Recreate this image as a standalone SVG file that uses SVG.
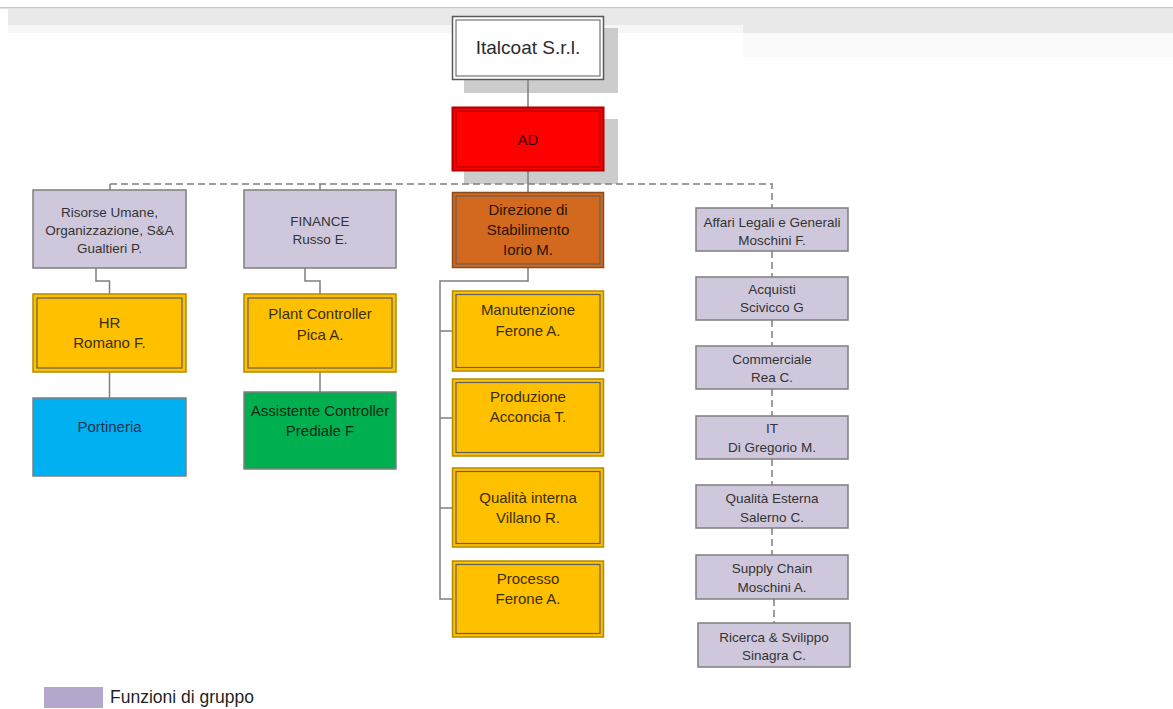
<svg xmlns="http://www.w3.org/2000/svg" width="1173" height="709" viewBox="0 0 1173 709">
<style>
text{font-family:"Liberation Sans",Arial,sans-serif;text-anchor:middle;fill:#2b2b2b}
.s{font-size:13.5px;fill:#333}
.m{font-size:15px;fill:#3a2f00}
.lav{fill:#cfc8dc;stroke:#7f7f7f;stroke-width:1.5}
.yo{fill:#ffc000;stroke:#b08a00;stroke-width:1.5}
.yi{fill:none;stroke:#5f5f5f;stroke-width:1.2}
.ln{fill:none;stroke:#7f7f7f;stroke-width:1.5}
.dl{fill:none;stroke:#7f7f7f;stroke-width:1.5;stroke-dasharray:7,4}
.sh{fill:#cccccc}
</style>
<rect width="1173" height="709" fill="#ffffff"/>
<g id="topband">
<rect x="0" y="7" width="1173" height="1.5" fill="#c8c8c8"/>
<rect x="8" y="9" width="1165" height="16" fill="#e9e9e9"/>
<rect x="8" y="25" width="735" height="8" fill="#f7f7f7"/>
<rect x="743" y="25" width="430" height="8" fill="#e9e9e9"/>
<rect x="743" y="33" width="430" height="24" fill="#fafafa"/>
</g>
<g id="shadows">
<rect class="sh" x="464" y="28" width="154" height="65"/>
<rect class="sh" x="464" y="119" width="154" height="65"/>
</g>
<g id="connectors">
<path class="ln" d="M528,80V107M528,170V192"/>
<path class="dl" d="M110,184H772V208"/>
<path class="ln" d="M110,184V190M320,184V190"/>
<path class="ln" d="M96,268V281H109.5V294M109.5,372V398"/>
<path class="ln" d="M305,268V281H320V294M320,372V392"/>
<path class="ln" d="M528,268V281H440V599H452M440,331H452M440,418H452M440,508H452"/>
<path class="dl" d="M772,251V277M772,320V346M772,389V416M772,459V485M772,528V555M774,599V623"/>
</g>
<g id="italcoat">
<rect x="452.5" y="16.5" width="151" height="63" fill="#fff" stroke="#595959" stroke-width="1.5"/>
<rect x="456" y="20" width="144" height="56" fill="none" stroke="#595959" stroke-width="1"/>
<text x="528" y="54" style="font-size:19px">Italcoat S.r.l.</text>
</g>
<g id="ad">
<rect x="452.5" y="107.5" width="151" height="63" fill="#ff0000" stroke="#b00000" stroke-width="2"/>
<rect x="456" y="111" width="144" height="56" fill="none" stroke="#a00000" stroke-width="1"/>
<text x="528" y="144.5" style="font-size:15px;fill:#300">AD</text>
</g>
<g id="risorse">
<rect class="lav" x="33" y="190" width="153" height="78"/>
<text class="s" x="109.5" y="217">Risorse Umane,</text>
<text class="s" x="109.5" y="235">Organizzazione, S&amp;A</text>
<text class="s" x="109.5" y="253">Gualtieri P.</text>
</g>
<g id="hr">
<rect class="yo" x="33" y="294" width="153" height="78"/>
<rect class="yi" x="37" y="298" width="145" height="70"/>
<text class="m" x="109.5" y="328">HR</text>
<text class="m" x="109.5" y="348">Romano F.</text>
</g>
<g id="portineria">
<rect x="33" y="398" width="153" height="78" fill="#00b0f0" stroke="#7f7f7f" stroke-width="1.5"/>
<text class="m" x="109.5" y="432" style="fill:#1c3350">Portineria</text>
</g>
<g id="finance">
<rect class="lav" x="244" y="190" width="152" height="78"/>
<text class="s" x="320" y="226">FINANCE</text>
<text class="s" x="320" y="244">Russo E.</text>
</g>
<g id="plantcontroller">
<rect class="yo" x="244" y="294" width="152" height="78"/>
<rect class="yi" x="248" y="298" width="144" height="70"/>
<text class="m" x="320" y="319">Plant Controller</text>
<text class="m" x="320" y="340">Pica A.</text>
</g>
<g id="assistente">
<rect x="244" y="392" width="152" height="77" fill="#00b050" stroke="#7f7f7f" stroke-width="1.5"/>
<text class="m" x="320" y="416" style="fill:#0f2a14">Assistente Controller</text>
<text class="m" x="320" y="436" style="fill:#0f2a14">Prediale F</text>
</g>
<g id="direzione">
<rect x="452.5" y="192.5" width="151" height="75" fill="#d2691e" stroke="#8a4a1a" stroke-width="1.5"/>
<rect x="456" y="196" width="144" height="68" fill="none" stroke="#5f5f5f" stroke-width="1.2"/>
<text class="m" x="528" y="215" style="fill:#2a1400">Direzione di</text>
<text class="m" x="528" y="235" style="fill:#2a1400">Stabilimento</text>
<text class="m" x="528" y="255" style="fill:#2a1400">Iorio M.</text>
</g>
<g id="manutenzione">
<rect class="yo" x="452.5" y="291" width="151" height="80"/>
<rect class="yi" x="456" y="294.5" width="144" height="73"/>
<text class="m" x="528" y="315">Manutenzione</text>
<text class="m" x="528" y="336">Ferone A.</text>
</g>
<g id="produzione">
<rect class="yo" x="452.5" y="379" width="151" height="77"/>
<rect class="yi" x="456" y="382.5" width="144" height="70"/>
<text class="m" x="528" y="402">Produzione</text>
<text class="m" x="528" y="422">Acconcia T.</text>
</g>
<g id="qualitainterna">
<rect class="yo" x="452.5" y="468" width="151" height="79"/>
<rect class="yi" x="456" y="471.5" width="144" height="72"/>
<text class="m" x="528" y="503">Qualità interna</text>
<text class="m" x="528" y="523">Villano R.</text>
</g>
<g id="processo">
<rect class="yo" x="452.5" y="561" width="151" height="76"/>
<rect class="yi" x="456" y="564.5" width="144" height="69"/>
<text class="m" x="528" y="584">Processo</text>
<text class="m" x="528" y="604">Ferone A.</text>
</g>
<g id="affari">
<rect class="lav" x="696" y="208" width="152" height="43"/>
<text class="s" x="772" y="227">Affari Legali e Generali</text>
<text class="s" x="772" y="245">Moschini F.</text>
</g>
<g id="acquisti">
<rect class="lav" x="696" y="277" width="152" height="43"/>
<text class="s" x="772" y="294">Acquisti</text>
<text class="s" x="772" y="312">Scivicco G</text>
</g>
<g id="commerciale">
<rect class="lav" x="696" y="346" width="152" height="43"/>
<text class="s" x="772" y="364">Commerciale</text>
<text class="s" x="772" y="382">Rea C.</text>
</g>
<g id="it">
<rect class="lav" x="696" y="416" width="152" height="43"/>
<text class="s" x="772" y="433">IT</text>
<text class="s" x="772" y="452">Di Gregorio M.</text>
</g>
<g id="qualitaesterna">
<rect class="lav" x="696" y="485" width="152" height="43"/>
<text class="s" x="772" y="503">Qualità Esterna</text>
<text class="s" x="772" y="522">Salerno C.</text>
</g>
<g id="supplychain">
<rect class="lav" x="696" y="555" width="152" height="44"/>
<text class="s" x="772" y="573">Supply Chain</text>
<text class="s" x="772" y="592">Moschini A.</text>
</g>
<g id="ricerca">
<rect class="lav" x="698" y="623" width="152" height="44"/>
<text class="s" x="774" y="642">Ricerca &amp; Svilippo</text>
<text class="s" x="774" y="660">Sinagra C.</text>
</g>
<g id="legend">
<rect x="44" y="687" width="59" height="21" fill="#b4a7cc"/>
<text x="110" y="703" style="font-size:17.5px;text-anchor:start;fill:#1f1f1f">Funzioni di gruppo</text>
</g>
</svg>
